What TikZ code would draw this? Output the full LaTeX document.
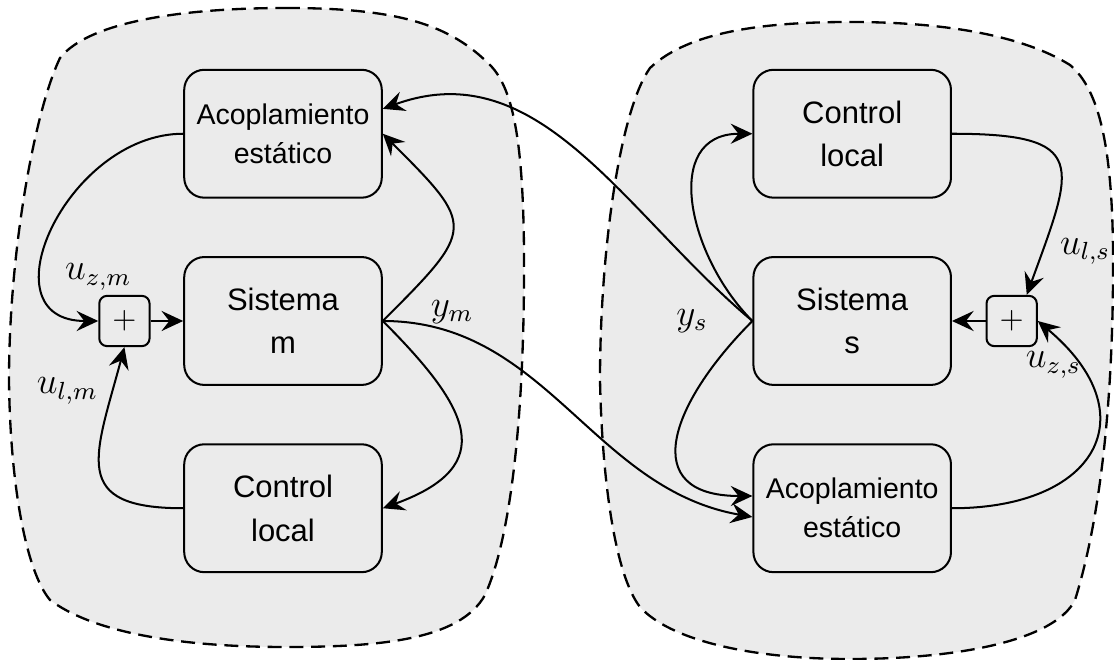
\documentclass[tikz,border=0pt]{standalone}
\usepackage{fontspec}
\setsansfont{Liberation Sans}
\usetikzlibrary{positioning, arrows.meta}

\begin{document}
\begin{tikzpicture}[x=0.01134cm, y=0.01134cm, >={Stealth[length=7pt, width=6.5pt, inset=2.5pt]}, node distance=0.65cm,
  blk/.style={draw, rounded corners=6.5pt, line width=0.65pt, minimum width=2.24cm, minimum height=1.45cm, align=center, font=\sffamily\fontsize{10}{14}\selectfont},
  acop/.style={blk, font=\sffamily\fontsize{9.2}{12.6}\selectfont},
  suma/.style={draw, rounded corners=2.5pt, line width=0.65pt, minimum size=0.57cm, inner sep=0pt},
  zona/.style={draw, fill=black!8, line width=0.75pt, dash pattern=on 4.5pt off 2.5pt},
  senal/.style={font=\fontsize{11.5}{13}\selectfont},
  flecha/.style={->, line width=0.65pt}]
  \useasboundingbox (0,0) rectangle (1114,660);

  \draw[zona] (286,652) .. controls (400,652) and (450,635) .. (490,595)
    .. controls (515,570) and (523,510) .. (524,410)
    .. controls (525,240) and (510,120) .. (485,65)
    .. controls (460,20) and (380,13) .. (286,13)
    .. controls (170,13) and (90,30) .. (50,60)
    .. controls (25,90) and (10,180) .. (9,280)
    .. controls (9,410) and (35,550) .. (60,602)
    .. controls (90,640) and (190,652) .. cycle;
  \draw[zona] (850,638) .. controls (960,638) and (1030,620) .. (1070,595)
    .. controls (1100,570) and (1112,510) .. (1113,410)
    .. controls (1114,260) and (1100,140) .. (1075,60)
    .. controls (1055,20) and (960,1) .. (850,1)
    .. controls (750,1) and (670,20) .. (640,53)
    .. controls (615,85) and (602,180) .. (600,280)
    .. controls (600,410) and (620,550) .. (650,592)
    .. controls (690,630) and (770,638) .. cycle;

  \node[blk] (sism) at (283,339) {Sistema\\m};
  \node[acop, above=of sism] (acm) {Acoplamiento\\estático};
  \node[blk, below=of sism] (clm) {Control\\local};
  \node[suma, left=0.37cm of sism] (summ) {$+$};

  \node[blk, right=4.19cm of sism] (siss) {Sistema\\s};
  \node[blk, above=of siss] (cls) {Control\\local};
  \node[acop, below=of siss] (acs) {Acoplamiento\\estático};
  \node[suma, right=0.38cm of siss] (sums) {$+$};

  \node[senal, above=-2pt of summ.north west] (uzm) {$u_{z,m}$};
  \node[senal, below left=0.22cm and -0.12cm of summ.south west] (ulm) {$u_{l,m}$};
  \node[senal, above right=-0.15cm and 0.42cm of sism.east] (ym) {$y_m$};
  \node[senal, left=0.38cm of siss.west] (ys) {$y_s$};
  \node[senal, above right=0.22cm and 0.13cm of sums.north east] (uls) {$u_{l,s}$};
  \node[senal, below right=-0.07cm and -0.26cm of sums.south east] (uzs) {$u_{z,s}$};

  \draw[flecha] (acm.west) to[out=180, in=180, looseness=1.45] (summ.west);
  \draw[flecha] (summ) -- (sism);
  \draw[flecha] (clm.west) to[out=180, in=-105, looseness=1.7] (summ.south);
  \draw[flecha] (sism.east) to[out=45, in=-45, looseness=1.8] (acm.east);
  \draw[flecha] (sism.east) to[out=-45, in=20, looseness=1.7] (clm.east);
  \draw[flecha] (sism.east) to[out=0, in=170] (acs.185);

  \draw[flecha] (siss.west) to[out=140, in=20] (acm.14);
  \draw[flecha] (siss.west) to[out=135, in=180, looseness=1.25] (cls.west);
  \draw[flecha] (siss.west) to[out=-135, in=180, looseness=1.7] (acs.173);
  \draw[flecha] (cls.east) to[out=0, in=70, looseness=2] (sums.60);
  \draw[flecha] (sums) -- (siss);
  \draw[flecha] (acs.east) to[out=0, in=-40, looseness=1.8] (sums.east);
\end{tikzpicture}
\end{document}
